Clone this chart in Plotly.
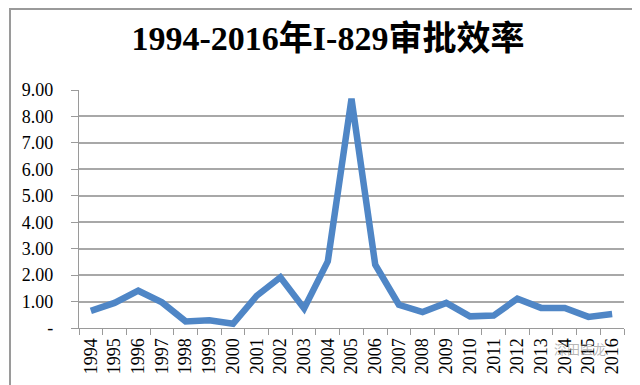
import plotly.graph_objects as go

years = [str(y) for y in range(1994, 2017)]
values = [0.65, 0.95, 1.41, 0.97, 0.25, 0.29, 0.16, 1.22, 1.92, 0.74, 2.52, 8.67,
          2.40, 0.88, 0.60, 0.95, 0.44, 0.47, 1.11, 0.76, 0.76, 0.42, 0.53]
ytick_vals = [0, 1, 2, 3, 4, 5, 6, 7, 8, 9]
ytick_text = ["-", "1.00", "2.00", "3.00", "4.00", "5.00", "6.00", "7.00", "8.00", "9.00"]
title_text = "1994-2016年I-829审批效率"

W, H = 640, 385
ml, mr, mt, mb = 71, 24, 82, 65
pw, ph = W - ml - mr, H - mt - mb

serif = "Liberation Serif, Noto Sans CJK SC, serif"

fig = go.Figure()
fig.add_trace(go.Scatter(
    x=years, y=values, mode="lines",
    line=dict(color="#4f86c6", width=6.5, shape="linear"),
    hoverinfo="x+y",
))

fig.update_layout(
    width=W, height=H,
    margin=dict(l=ml, r=mr, t=mt, b=mb, pad=0, autoexpand=False),
    paper_bgcolor="white", plot_bgcolor="white",
    showlegend=False,
    title=dict(text=title_text, x=0.5, xanchor="center", y=1 - 30 / H, yanchor="middle",
               font=dict(family=serif, size=34, color="#000000", weight="bold")),
    xaxis=dict(type="category", range=[-0.5, 22.5], tickson="boundaries",
               automargin=False,
               showline=True, linecolor="#9a9a9a", linewidth=1.2,
               ticks="outside", ticklen=6, tickcolor="#9a9a9a", tickwidth=1.2,
               tickangle=-90, showgrid=False, ticklabelstandoff=2,
               tickfont=dict(family=serif, size=18, color="#000000")),
    yaxis=dict(range=[0, 9], tickvals=ytick_vals, ticktext=ytick_text,
               automargin=False,
               showline=True, linecolor="#9a9a9a", linewidth=1.2,
               ticks="outside", ticklen=7, tickcolor="#9a9a9a", tickwidth=1.2,
               showgrid=True, gridcolor="#a8a8a8", gridwidth=1.5,
               zeroline=False, ticklabelstandoff=14,
               tickfont=dict(family=serif, size=18, color="#000000")),
    shapes=[dict(type="rect", xref="paper", yref="paper",
                 x0=(2 - ml) / pw, x1=(638 - ml) / pw,
                 y0=(H - mb - 383) / ph, y1=(H - mb - 1) / ph,
                 line=dict(color="#9a9a9a", width=2), fillcolor="rgba(0,0,0,0)", layer="below")],
    annotations=[dict(text="深田医龙", xref="paper", yref="paper",
                      x=(600 - ml) / pw, y=(H - mb - 352) / ph, showarrow=False,
                      font=dict(family="Noto Sans CJK SC", size=13, color="rgba(120,120,120,0.55)"))],
)

fig.write_html("out.html")
